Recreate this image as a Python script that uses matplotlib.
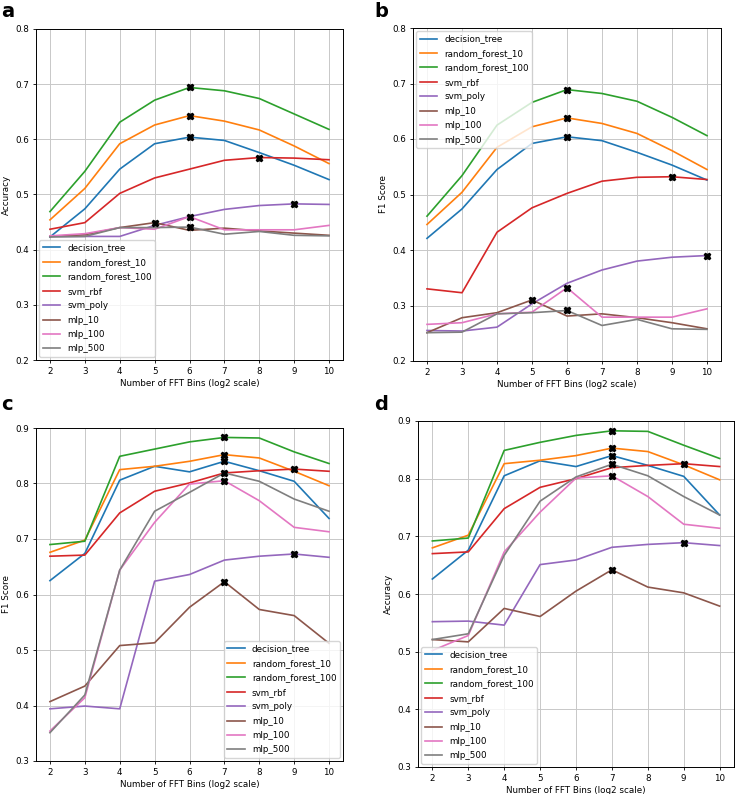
import matplotlib.pyplot as plt
import numpy as np

# x axis: number of FFT bins (log2 scale)
bins = [2, 3, 4, 5, 6, 7, 8, 9, 10]
models = ['decision_tree', 'random_forest_10', 'random_forest_100', 'svm_rbf',
          'svm_poly', 'mlp_10', 'mlp_100', 'mlp_500']

# panel a - accuracy
acc_a = {
    'decision_tree':     [0.423, 0.474, 0.546, 0.592, 0.604, 0.598, 0.576, 0.553, 0.527],
    'random_forest_10':  [0.454, 0.511, 0.592, 0.626, 0.643, 0.633, 0.617, 0.588, 0.556],
    'random_forest_100': [0.469, 0.542, 0.631, 0.671, 0.694, 0.688, 0.674, 0.646, 0.618],
    'svm_rbf':           [0.437, 0.449, 0.502, 0.530, 0.546, 0.562, 0.567, 0.566, 0.563],
    'svm_poly':          [0.424, 0.424, 0.424, 0.444, 0.460, 0.473, 0.480, 0.483, 0.482],
    'mlp_10':            [0.424, 0.427, 0.440, 0.449, 0.435, 0.439, 0.434, 0.430, 0.426],
    'mlp_100':           [0.425, 0.429, 0.440, 0.437, 0.460, 0.436, 0.436, 0.436, 0.444],
    'mlp_500':           [0.423, 0.424, 0.440, 0.440, 0.441, 0.428, 0.433, 0.426, 0.425],
}

# panel b - F1
f1_b = {
    'decision_tree':     [0.421, 0.474, 0.545, 0.592, 0.604, 0.597, 0.576, 0.553, 0.526],
    'random_forest_10':  [0.446, 0.504, 0.585, 0.622, 0.638, 0.628, 0.610, 0.579, 0.545],
    'random_forest_100': [0.461, 0.534, 0.625, 0.666, 0.689, 0.682, 0.668, 0.639, 0.606],
    'svm_rbf':           [0.330, 0.323, 0.432, 0.476, 0.502, 0.524, 0.531, 0.532, 0.527],
    'svm_poly':          [0.255, 0.254, 0.261, 0.303, 0.340, 0.364, 0.380, 0.387, 0.390],
    'mlp_10':            [0.251, 0.278, 0.287, 0.310, 0.281, 0.285, 0.278, 0.269, 0.258],
    'mlp_100':           [0.266, 0.269, 0.285, 0.288, 0.332, 0.279, 0.279, 0.279, 0.294],
    'mlp_500':           [0.251, 0.252, 0.285, 0.287, 0.291, 0.264, 0.275, 0.258, 0.257],
}

# panel c - F1
f1_c = {
    'decision_tree':     [0.625, 0.674, 0.806, 0.831, 0.821, 0.840, 0.823, 0.804, 0.737],
    'random_forest_10':  [0.676, 0.698, 0.825, 0.831, 0.840, 0.852, 0.846, 0.822, 0.796],
    'random_forest_100': [0.690, 0.696, 0.849, 0.862, 0.875, 0.883, 0.882, 0.857, 0.836],
    'svm_rbf':           [0.669, 0.671, 0.747, 0.786, 0.801, 0.819, 0.823, 0.826, 0.822],
    'svm_poly':          [0.394, 0.399, 0.394, 0.624, 0.636, 0.662, 0.669, 0.673, 0.667],
    'mlp_10':            [0.407, 0.435, 0.508, 0.513, 0.577, 0.623, 0.573, 0.562, 0.512],
    'mlp_100':           [0.354, 0.414, 0.644, 0.730, 0.799, 0.805, 0.769, 0.721, 0.713],
    'mlp_500':           [0.351, 0.419, 0.644, 0.750, 0.784, 0.819, 0.804, 0.772, 0.750],
}

# panel d - accuracy
acc_d = {
    'decision_tree':     [0.626, 0.676, 0.805, 0.831, 0.821, 0.840, 0.823, 0.804, 0.737],
    'random_forest_10':  [0.680, 0.702, 0.826, 0.832, 0.840, 0.853, 0.847, 0.824, 0.798],
    'random_forest_100': [0.692, 0.697, 0.849, 0.863, 0.875, 0.883, 0.882, 0.858, 0.835],
    'svm_rbf':           [0.670, 0.673, 0.748, 0.785, 0.800, 0.819, 0.823, 0.826, 0.821],
    'svm_poly':          [0.552, 0.553, 0.546, 0.651, 0.659, 0.681, 0.686, 0.689, 0.684],
    'mlp_10':            [0.521, 0.517, 0.575, 0.561, 0.605, 0.642, 0.612, 0.602, 0.579],
    'mlp_100':           [0.502, 0.528, 0.673, 0.742, 0.801, 0.805, 0.769, 0.721, 0.714],
    'mlp_500':           [0.521, 0.531, 0.667, 0.761, 0.803, 0.825, 0.805, 0.769, 0.737],
}

colors = ['#1f77b4', '#ff7f0e', '#2ca02c', '#d62728', '#9467bd', '#8c564b', '#e377c2', '#7f7f7f']

plt.rcParams['font.size'] = 6.3
plt.rcParams['axes.linewidth'] = 0.7
plt.rcParams['xtick.major.width'] = 0.6
plt.rcParams['ytick.major.width'] = 0.6
plt.rcParams['xtick.major.size'] = 2.5
plt.rcParams['ytick.major.size'] = 2.5
plt.rcParams['xtick.major.pad'] = 2.5
plt.rcParams['ytick.major.pad'] = 2.5

fig = plt.figure(figsize=(7.38, 7.94), dpi=100)
W, H = 738, 794


def box(l, r, t, b):
    return [l / W, 1 - b / H, (r - l) / W, (b - t) / H]


panels = [
    ('a', acc_a, 'Accuracy', (0.2, 0.8), 'lower left', box(36, 343, 29, 360), (1, 17)),
    ('b', f1_b, 'F1 Score', (0.2, 0.8), 'upper left', box(413, 721, 28, 361), (374, 17)),
    ('c', f1_c, 'F1 Score', (0.3, 0.9), 'lower right', box(36, 343, 428, 761), (1, 410)),
    ('d', acc_d, 'Accuracy', (0.3, 0.9), 'lower left', box(418, 734, 421, 767), (374, 410)),
]

for letter, data, ylab, ylim, loc, pos, lpos in panels:
    ax = fig.add_axes(pos)
    for name, c in zip(models, colors):
        ax.plot(bins, data[name], color=c, lw=1.2, label=name)
    for name in models:
        i = int(np.argmax(data[name]))
        ax.plot(bins[i], data[name][i], marker='X', color='black', ms=5, ls='none', zorder=5)
    ax.set_ylim(*ylim)
    ax.set_xlim(1.6, 10.4)
    ax.set_xticks(bins)
    ax.set_yticks(np.arange(ylim[0], ylim[1] + 0.001, 0.1))
    ax.grid(True, color='#c8c8c8', lw=0.7)
    ax.set_xlabel('Number of FFT Bins (log2 scale)', labelpad=2)
    ax.set_ylabel(ylab, labelpad=3)
    ax.legend(loc=loc, fontsize=6.3, labelspacing=0.62, borderaxespad=0.35)
    fig.text(lpos[0] / W, 1 - lpos[1] / H, letter, fontsize=14, fontweight='bold')

plt.savefig('out.png', dpi=100)
